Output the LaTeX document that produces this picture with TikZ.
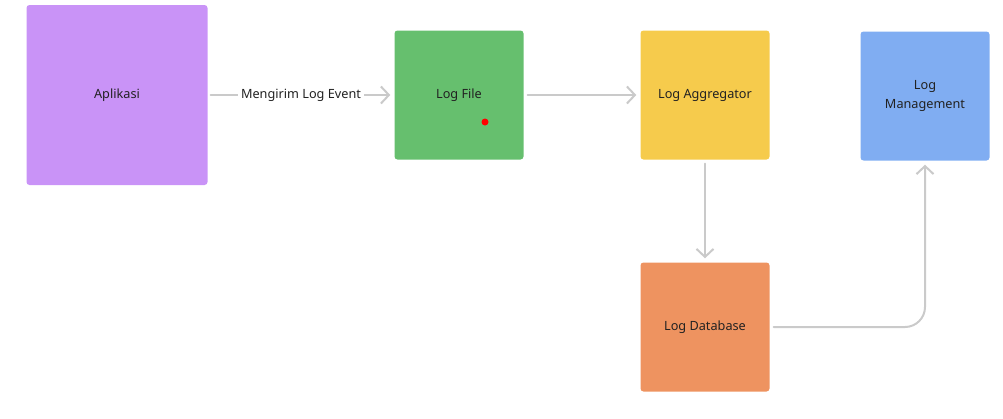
\documentclass[tikz,border=0pt]{standalone}
\usepackage{fontspec}
\setmainfont{Noto Sans}
\usetikzlibrary{arrows.meta}
\definecolor{cpurple}{HTML}{C993F7}
\definecolor{cgreen}{HTML}{66BF6E}
\definecolor{cyellow}{HTML}{F6CB4C}
\definecolor{cblue}{HTML}{80ADF2}
\definecolor{corange}{HTML}{EE9360}
\definecolor{cline}{HTML}{CACACA}
\definecolor{ctext}{HTML}{222222}
\tikzset{
  box/.style={rounded corners=3pt, inner sep=0pt, text=ctext, font=\fontsize{12.7}{17}\selectfont, align=center},
  conn/.style={draw=cline, line width=2pt, line cap=round, -{Straight Barb[length=8pt,width=17pt,line width=2pt]}},
  lbl/.style={fill=white, text=ctext, font=\fontsize{12.7}{17}\selectfont, inner sep=3pt}
}
\begin{document}
\begin{tikzpicture}[x=1pt,y=-1pt]
\useasboundingbox (0,0) rectangle (1003,418);
\node[box, fill=cpurple, minimum width=181pt, minimum height=180pt] (app) at (117,95) {Aplikasi};
\node[box, fill=cgreen, minimum width=129pt, minimum height=129pt] (file) at (459,95) {Log File};
\node[box, fill=cyellow, minimum width=129pt, minimum height=129pt] (agg) at (705,95) {Log Aggregator};
\node[box, fill=cblue, minimum width=129pt, minimum height=129pt] (mgmt) at (925,96) {Log\\[2pt]Management};
\node[box, fill=corange, minimum width=129pt, minimum height=129pt] (db) at (705,327) {Log Database};
\fill[red] (485,122) circle (3.5pt);
\draw[conn, shorten <=3pt, shorten >=4pt] (app.east) -- node[lbl] (lab) {Mengirim Log Event} (file.west);
\draw[conn, shorten <=4pt, shorten >=4pt] (file.east) -- (agg.west);
\draw[conn, shorten <=4pt, shorten >=4pt] (agg.south) -- (db.north);
\draw[conn, rounded corners=20pt, shorten <=4pt, shorten >=4pt] (db.east) -| (mgmt.south);
\end{tikzpicture}
\end{document}
